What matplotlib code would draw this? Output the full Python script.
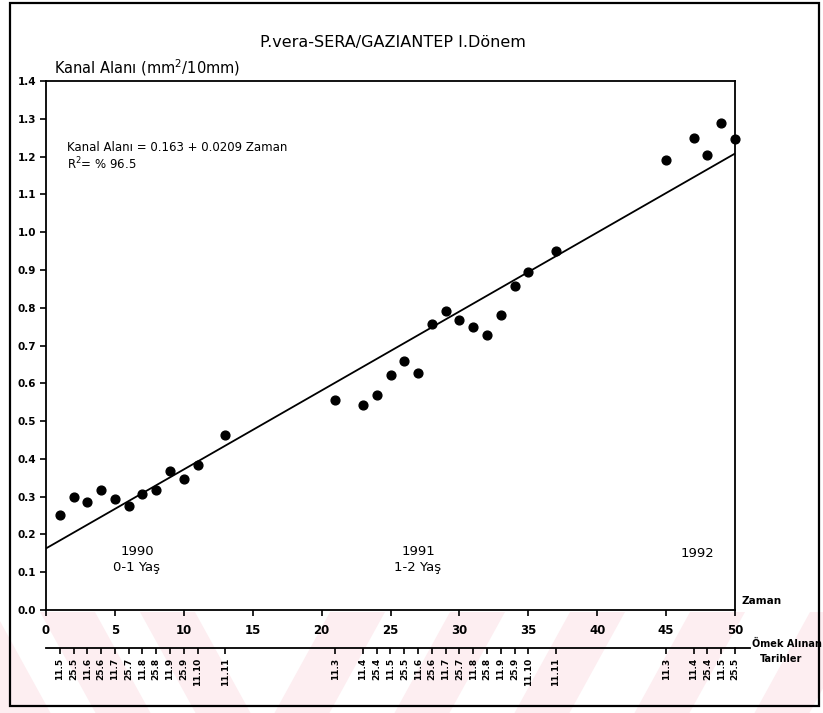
import matplotlib
matplotlib.use("Agg")
import matplotlib.pyplot as plt
from matplotlib.patches import Polygon, Rectangle
from matplotlib.lines import Line2D
import numpy as np

# ---------------- data ----------------
zaman_1990 = [1, 2, 3, 4, 5, 6, 7, 8, 9, 10, 11, 13]
kanal_1990 = [0.252, 0.300, 0.286, 0.318, 0.293, 0.276, 0.308, 0.317, 0.369, 0.348, 0.383, 0.462]
zaman_1991 = [21, 23, 24, 25, 26, 27, 28, 29, 30, 31, 32, 33, 34, 35, 37]
kanal_1991 = [0.557, 0.542, 0.569, 0.623, 0.660, 0.627, 0.756, 0.790, 0.768, 0.748, 0.729, 0.780, 0.857, 0.895, 0.949]
zaman_1992 = [45, 47, 48, 49, 50]
kanal_1992 = [1.191, 1.248, 1.203, 1.290, 1.247]

dates_1990 = ["11.5", "25.5", "11.6", "25.6", "11.7", "25.7", "11.8", "25.8", "11.9", "25.9", "11.10", "11.11"]
dates_1991 = ["11.3", "11.4", "25.4", "11.5", "25.5", "11.6", "25.6", "11.7", "25.7", "11.8", "25.8", "11.9", "25.9", "11.10", "11.11"]
dates_1992 = ["11.3", "11.4", "25.4", "11.5", "25.5"]

intercept = 0.163
slope = 0.0209

xticks = [0, 5, 10, 15, 20, 25, 30, 35, 40, 45, 50]
yticks = [0.0, 0.1, 0.2, 0.3, 0.4, 0.5, 0.6, 0.7, 0.8, 0.9, 1.0, 1.1, 1.2, 1.3, 1.4]

# ---------------- figure ----------------
W, H = 823, 713
fig = plt.figure(figsize=(W / 100, H / 100), dpi=100)
fig.patch.set_facecolor("white")
plt.rcParams['font.family'] = ['DejaVu Sans']

def fx(px):
    return px / W

def fy(py):
    return 1 - py / H

# watermark stripes in the lower band (drawn behind everything)
pink = "#fdeef1"
band_top, band_bot = 612, 713
k = 0.55 * (band_bot - band_top)
for x0 in [-60, 40, 140]:
    pts = [(fx(x0), fy(band_top)), (fx(x0 + 55), fy(band_top)),
           (fx(x0 + 55 + k), fy(band_bot)), (fx(x0 + k), fy(band_bot))]
    fig.patches.append(Polygon(pts, closed=True, transform=fig.transFigure,
                               facecolor=pink, edgecolor="none", zorder=-10))
for x0 in [330, 450, 570, 690, 810]:
    pts = [(fx(x0), fy(band_top)), (fx(x0 + 55), fy(band_top)),
           (fx(x0 + 55 - k), fy(band_bot)), (fx(x0 - k), fy(band_bot))]
    fig.patches.append(Polygon(pts, closed=True, transform=fig.transFigure,
                               facecolor=pink, edgecolor="none", zorder=-10))

# outer border
fig.patches.append(Rectangle((fx(10), fy(706)), fx(819) - fx(10), fy(3) - fy(706),
                             transform=fig.transFigure, fill=False,
                             edgecolor="black", linewidth=1.6, zorder=5))

ax = fig.add_axes([fx(46), fy(610), fx(735) - fx(46), fy(81) - fy(610)])
ax.set_zorder(2)
ax.set_facecolor("none")
ax.set_xlim(0, 50)
ax.set_ylim(0, 1.4)

for s in ax.spines.values():
    s.set_linewidth(1.3)

ax.set_xticks(xticks)
ax.set_xticklabels([str(t) for t in xticks])
ax.set_yticks(yticks)
ax.set_yticklabels([f"{t:.1f}" for t in yticks])
ax.tick_params(axis="both", direction="out", length=4, width=1.2,
               labelsize=7.5, pad=3)
ax.tick_params(axis="x", pad=6, labelsize=8.5)
for lab in ax.get_xticklabels() + ax.get_yticklabels():
    lab.set_fontweight("bold")

# regression line
xl = np.array([0, 50])
ax.plot(xl, intercept + slope * xl, color="black", linewidth=1.3, zorder=3)

# points
allx = zaman_1990 + zaman_1991 + zaman_1992
ally = kanal_1990 + kanal_1991 + kanal_1992
ax.scatter(allx, ally, s=40, color="black", zorder=4, clip_on=False)

# sampling-date axis
date_pos = zaman_1990 + zaman_1991 + zaman_1992
date_lab = dates_1990 + dates_1991 + dates_1992
sec = ax.secondary_xaxis(-0.072)
sec.set_xticks(date_pos)
sec.set_xticklabels(date_lab, rotation=90, fontsize=6.5, fontweight="bold")
sec.tick_params(axis="x", direction="out", length=4, width=1.2, pad=3)
sec.spines["bottom"].set_linewidth(1.3)
# extension of date-axis line to its label
fig.add_artist(Line2D([fx(735), fx(750)], [fy(648), fy(648)],
                      transform=fig.transFigure, color="black", linewidth=1.3))

# texts
fig.text(fx(393), fy(42), "P.vera-SERA/GAZIANTEP I.Dönem", ha="center", va="center",
         fontsize=11.5)
fig.text(fx(54), fy(68), "Kanal Alanı (mm$^2$/10mm)", ha="left", va="center",
         fontsize=10.5)
ax.text(1.5, 1.225, "Kanal Alanı = 0.163 + 0.0209 Zaman", ha="left", va="center",
        fontsize=8.5, fontweight="medium")
ax.text(1.5, 1.18, "R$^2$= % 96.5", ha="left", va="center", fontsize=8.5)

ax.text(6.6, 0.155, "1990", ha="center", va="center", fontsize=9.5)
ax.text(6.6, 0.113, "0-1 Yaş", ha="center", va="center", fontsize=9.5)
ax.text(27.0, 0.155, "1991", ha="center", va="center", fontsize=9.5)
ax.text(27.0, 0.113, "1-2 Yaş", ha="center", va="center", fontsize=9.5)
ax.text(47.3, 0.15, "1992", ha="center", va="center", fontsize=9.5)

fig.text(fx(742), fy(601), "Zaman", ha="left", va="center", fontsize=7.5,
         fontweight="bold")
fig.text(fx(752), fy(644), "Ömek Alınan", ha="left", va="center", fontsize=7,
         fontweight="bold")
fig.text(fx(760), fy(659), "Tarihler", ha="left", va="center", fontsize=7,
         fontweight="bold")

fig.savefig("out.png", dpi=100, facecolor="white")
